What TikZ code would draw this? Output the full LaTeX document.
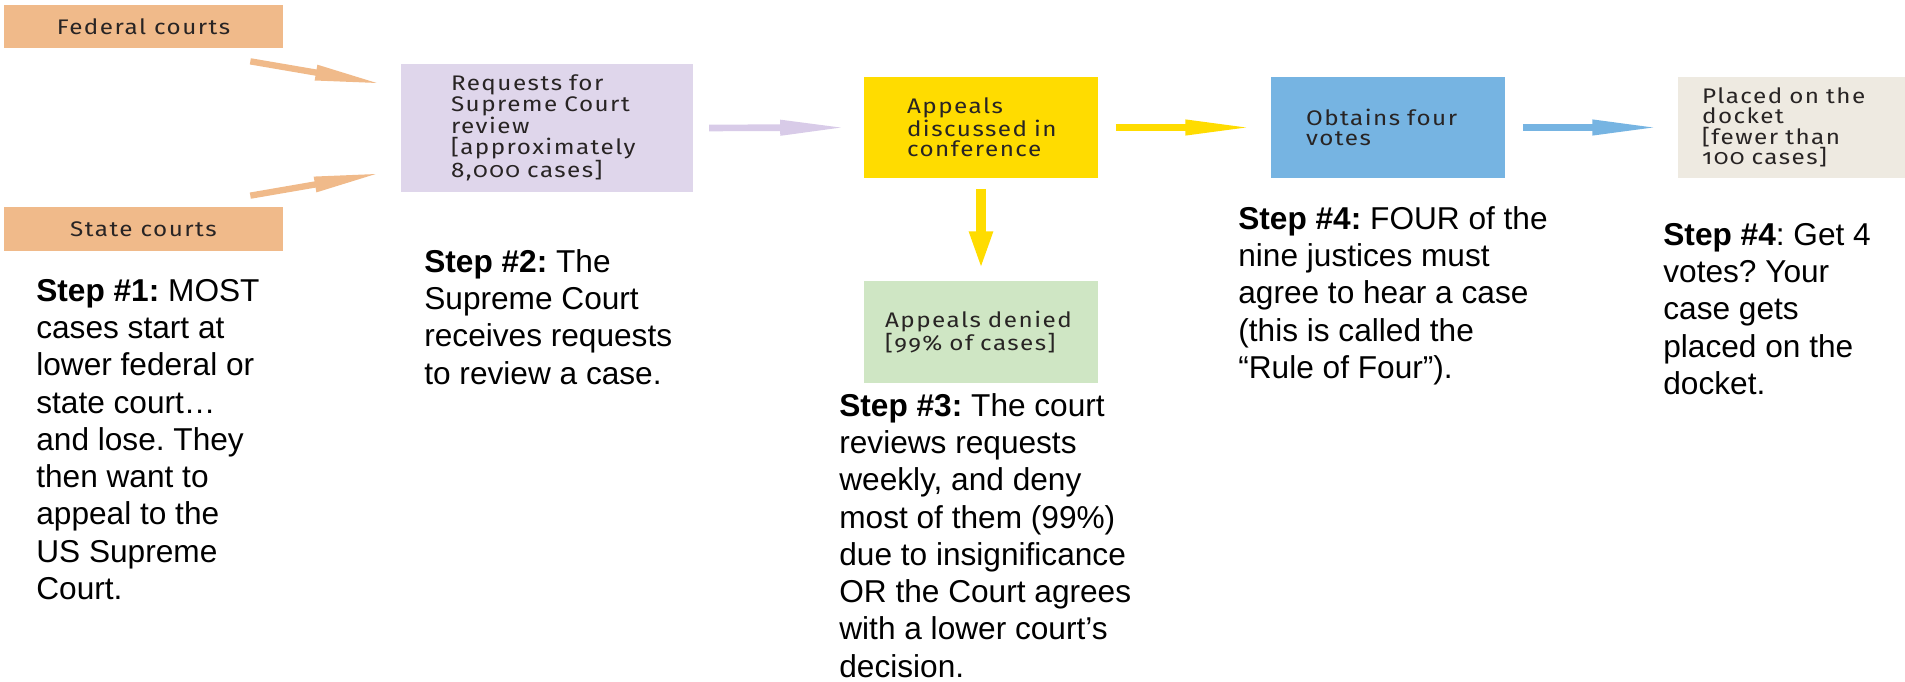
\documentclass[tikz,border=0pt]{standalone}
\usepackage{fontspec}
\usepackage{tikz}
\usetikzlibrary{arrows.meta,calc}
\setmainfont{Liberation Sans}
\newfontfamily\boxfont[FakeStretch=1.15,LetterSpace=7,Numbers=OldStyle]{Fira Sans}
\frenchspacing
\definecolor{courtorange}{RGB}{240,186,138}
\definecolor{reqpurple}{RGB}{223,214,235}
\definecolor{reqarrow}{RGB}{216,203,232}
\definecolor{confyellow}{RGB}{255,220,0}
\definecolor{voteblue}{RGB}{118,180,226}
\definecolor{docketbeige}{RGB}{238,234,225}
\definecolor{deniedgreen}{RGB}{207,230,196}
\definecolor{boxtext}{RGB}{40,36,36}

\begin{document}
\begin{tikzpicture}[x=0.02cm, y=-0.02cm,
        box/.style={rectangle, inner ysep=0pt, text=boxtext, align=left, font=\boxfont\fontsize{12}{11.6}\selectfont},
        steptext/.style={anchor=north west, inner sep=0pt, align=left, font=\fontsize{18}{21.2}\selectfont},
        flow/.style={line width=3.8pt, -{Triangle[length=38.5pt, width=8pt]}},
        gap/.style={shorten <=#1, shorten >=#1}]
            \useasboundingbox (0,0) rectangle (1905,682);

            \node[box, fill=courtorange, minimum width=5.58cm, minimum height=0.86cm, align=center] (fed) at (143.5,26.5) {Federal courts};
            \node[box, fill=courtorange, minimum width=5.58cm, minimum height=0.88cm, align=center] (state) at (143.5,229) {State courts};
            \node[box, fill=reqpurple, text width=3.84cm, inner xsep=1cm, minimum height=2.56cm] (req) at (547,128) {Requests~for\\ Supreme~Court\\ review\\ {[}approximately\\ 8,000~cases{]}};
            \node[box, fill=confyellow, text width=2.96cm, inner xsep=0.86cm, minimum height=2.02cm] (conf) at (981,127.5) {Appeals\\ discussed~in\\ conference};
            \node[box, fill=voteblue, text width=3.28cm, inner xsep=0.7cm, minimum height=2.02cm] (vote) at (1388,127.5) {Obtains~four\\ votes};
            \node[box, fill=docketbeige, text width=3.74cm, inner xsep=0.48cm, minimum height=2.02cm] (docket) at (1795.5,127.5) {Placed~on~the\\ docket\\ {[}fewer~than\\ 100~cases{]}};
            \node[box, fill=deniedgreen, text width=3.84cm, inner xsep=0.42cm, minimum height=2.04cm] (denied) at (981,332) {Appeals~denied\\ {[}99\%~of~cases{]}};

            \draw[flow, courtorange, line width=3.6pt] ($(fed.south east)+(-33,13)$) -- ($(req.west)+(-18,-44)$);
            \draw[flow, courtorange, line width=3.6pt] ($(state.north east)+(-33,-11)$) -- ($(req.west)+(-19,45)$);
            \draw[flow, reqarrow, gap=9pt] (req.east) -- (conf.west);
            \draw[flow, confyellow, gap=10pt] (conf.east) -- (vote.west);
            \draw[flow, voteblue, gap=10pt] (vote.east) -- (docket.west);
            \draw[confyellow, line width=5.7pt, -{Triangle[length=22pt, width=12pt]}, gap=6pt] (conf.south) -- (denied.north);

            \node[steptext] (stepone) at (36,279) {\textbf{Step \#1:} MOST\\ cases start at\\ lower federal or\\ state court…\\ and lose. They\\ then want to\\ appeal to the\\ US Supreme\\ Court.};
            \node[steptext] (steptwo) at (424,249) {\textbf{Step \#2:} The\\ Supreme Court\\ receives requests\\ to review a case.};
            \node[steptext] (stepthree) at (839,393) {\textbf{Step \#3:} The court\\ reviews requests\\ weekly, and deny\\ most of them (99\%)\\ due to insignificance\\ OR the Court agrees\\ with a lower court’s\\ decision.};
            \node[steptext] (stepfour) at (1238,206) {\textbf{Step \#4:} FOUR of the\\ nine justices must\\ agree to hear a case\\ (this is called the\\ “Rule of Four”).};
            \node[steptext] (stepfive) at (1663,223) {\textbf{Step \#4}: Get 4\\ votes? Your\\ case gets\\ placed on the\\ docket.};
        \end{tikzpicture}
\end{document}
